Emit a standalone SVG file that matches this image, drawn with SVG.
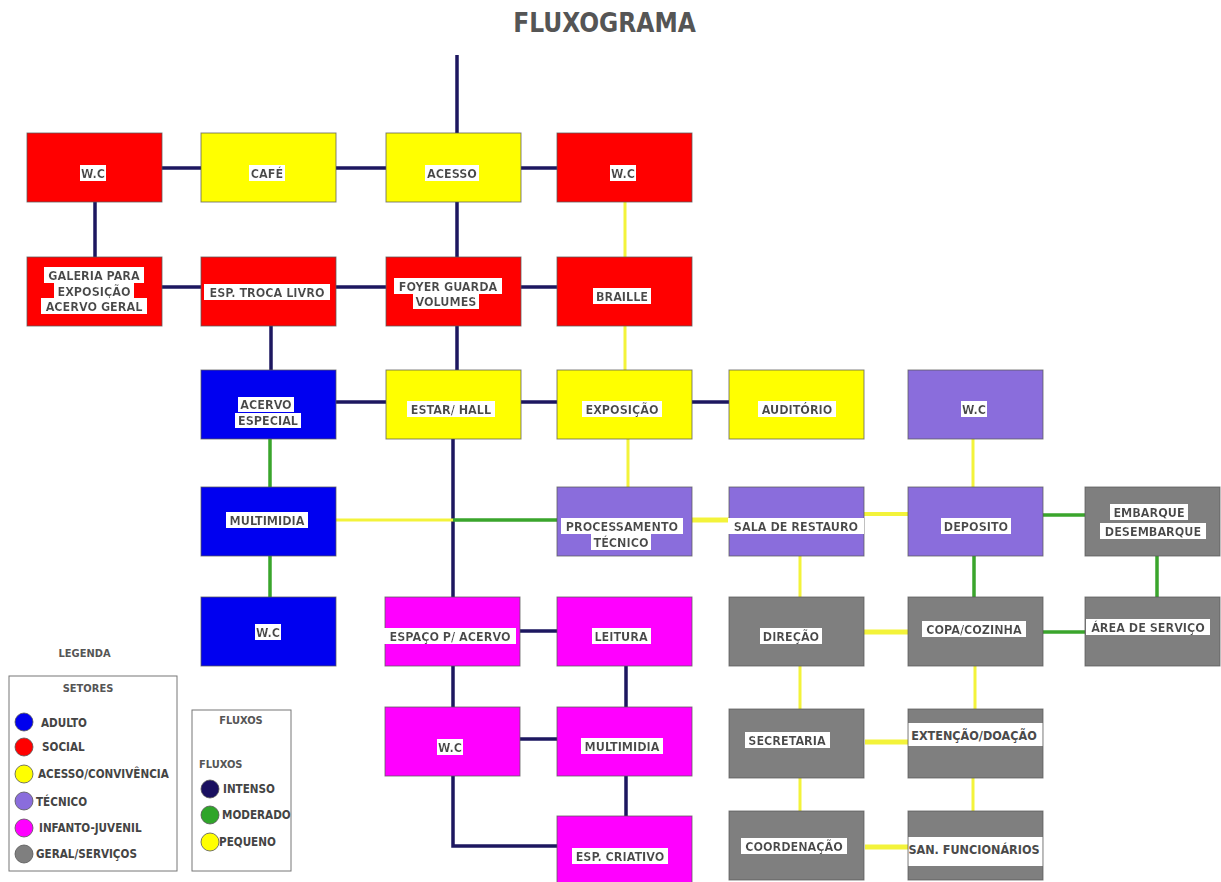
<svg xmlns="http://www.w3.org/2000/svg" width="1221" height="882" viewBox="0 0 1221 882">
<style>
.t{font-family:"DejaVu Sans Condensed","DejaVu Sans","Liberation Sans",sans-serif;font-stretch:condensed;font-weight:bold;font-size:12.5px;fill:#4a4a4a;text-anchor:middle}
.lb{filter:url(#bg)}
.box{stroke:#5a5a5a;stroke-opacity:.75;stroke-width:1}
.red{fill:#ff0000}.yel{fill:#ffff00}.blu{fill:#0000f0}.pur{fill:#8a6ddc}.mag{fill:#ff00ff}.gry{fill:#7f7f7f}
.i{stroke:#1d1760;stroke-width:3.5;fill:none}
.m{stroke:#3aa52c;stroke-width:3.5;fill:none}
.p{stroke:#f3f33a;stroke-width:3;fill:none}
.lg{font-family:"DejaVu Sans Condensed","DejaVu Sans","Liberation Sans",sans-serif;font-stretch:condensed;font-weight:bold;font-size:11.6px;fill:#444}
.lh{font-family:"DejaVu Sans Condensed","DejaVu Sans","Liberation Sans",sans-serif;font-stretch:condensed;font-weight:bold;font-size:11px;fill:#555}
.dot{stroke:#555;stroke-width:.8}
</style>
<defs>
<filter id="bg" x="-0.04" y="0" width="1.08" height="1">
<feFlood flood-color="#ffffff" result="f"/>
<feComposite in="SourceGraphic" in2="f" operator="over"/>
</filter>
</defs>
<rect width="1221" height="882" fill="#ffffff"/>
<text x="604.5" y="31.5" text-anchor="middle" font-family="DejaVu Sans Condensed, DejaVu Sans, Liberation Sans, sans-serif" font-stretch="condensed" font-weight="bold" font-size="26" fill="#555">FLUXOGRAMA</text>

<g id="connectors">
<path class="i" d="M457 55V133M161 168H201M335 168H386M520 168H557M95 202V257M457 202V257M161 287H201M335 287H386M520 287H557M271 326V370M457 326V370M336 402H386M520 402H557M692 402H729M453 439V597M519 631H557M453 666V707M626 666V707M519 739H557M626 776V816M453 776V846H557"/>
<path class="p" d="M625 202V257M625 326V370M628 439V487M336 520H453M973 439V487M800 556V597M800 666V709M975 666V709M800 778V811M973 778V811"/>
<path class="p" style="stroke-width:5" d="M692 520H729M864 632H908M865 742H908M865 847H908"/>
<path class="p" style="stroke-width:4" d="M864 514H908"/>
<path class="m" d="M270 439V487M270 556V597M453 520H557M1043 515H1085M974 556V597M1157 556V597M1043 632H1085"/>
</g>

<g id="wc1"><rect class="box red" x="27" y="133" width="135" height="69"/><text class="t lb" x="93" y="177.5">W.C</text></g>
<g id="cafe"><rect class="box yel" x="201" y="133" width="135" height="69"/><text class="t lb" x="267" y="177.5">CAFÉ</text></g>
<g id="acesso"><rect class="box yel" x="386" y="133" width="135" height="69"/><text class="t lb" x="452" y="177.5">ACESSO</text></g>
<g id="wc2"><rect class="box red" x="557" y="133" width="135" height="69"/><text class="t lb" x="623" y="177.5">W.C</text></g>

<g id="galeria"><rect class="box red" x="27" y="257" width="135" height="69"/><text class="t lb" x="94" y="279.5">GALERIA PARA</text><text class="t lb" x="94" y="295.5">EXPOSIÇÃO</text><text class="t lb" x="94" y="310.5">ACERVO GERAL</text></g>
<g id="troca"><rect class="box red" x="201" y="257" width="135" height="69"/><text class="t lb" x="267" y="296.5">ESP. TROCA LIVRO</text></g>
<g id="foyer"><rect class="box red" x="386" y="257" width="135" height="69"/><text class="t lb" x="448" y="290.5">FOYER GUARDA</text><text class="t lb" x="446" y="305.5">VOLUMES</text></g>
<g id="braille"><rect class="box red" x="557" y="257" width="135" height="69"/><text class="t lb" x="622" y="300.5">BRAILLE</text></g>

<g id="acervo-especial"><rect class="box blu" x="201" y="370" width="135" height="69"/><text class="t lb" x="266" y="409">ACERVO</text><text class="t lb" x="268" y="425">ESPECIAL</text></g>
<g id="estar"><rect class="box yel" x="386" y="370" width="135" height="69"/><text class="t lb" x="451" y="413.5">ESTAR/ HALL</text></g>
<g id="exposicao"><rect class="box yel" x="557" y="370" width="135" height="69"/><text class="t lb" x="622" y="413.5">EXPOSIÇÃO</text></g>
<g id="auditorio"><rect class="box yel" x="729" y="370" width="135" height="69"/><text class="t lb" x="797" y="413.5">AUDITÓRIO</text></g>
<g id="wc3"><rect class="box pur" x="908" y="370" width="135" height="69"/><text class="t lb" x="974" y="413.5">W.C</text></g>

<g id="multimidia1"><rect class="box blu" x="201" y="487" width="135" height="69"/><text class="t lb" x="267" y="524.5">MULTIMIDIA</text></g>
<g id="processamento"><rect class="box pur" x="557" y="487" width="135" height="69"/><text class="t lb" x="622" y="530.5">PROCESSAMENTO</text><text class="t lb" x="621" y="546.5">TÉCNICO</text></g>
<g id="sala-restauro"><rect class="box pur" x="729" y="487" width="135" height="69"/><text class="t lb" x="796" y="530.5">SALA DE RESTAURO</text></g>
<g id="deposito"><rect class="box pur" x="908" y="487" width="135" height="69"/><text class="t lb" x="976" y="530.5">DEPOSITO</text></g>
<g id="embarque"><rect class="box gry" x="1085" y="487" width="135" height="69"/><text class="t lb" x="1149" y="516.5">EMBARQUE</text><text class="t lb" x="1153" y="535.5">DESEMBARQUE</text></g>

<g id="wc4"><rect class="box blu" x="201" y="597" width="135" height="69"/><text class="t lb" x="268" y="636.5">W.C</text></g>
<g id="espaco-acervo"><rect class="box mag" x="385" y="597" width="135" height="69"/><text class="t lb" x="450" y="640.5">ESPAÇO P/ ACERVO</text></g>
<g id="leitura"><rect class="box mag" x="557" y="597" width="135" height="69"/><text class="t lb" x="621" y="640.5">LEITURA</text></g>
<g id="direcao"><rect class="box gry" x="729" y="597" width="135" height="69"/><text class="t lb" x="791" y="640.5">DIREÇÃO</text></g>
<g id="copa"><rect class="box gry" x="908" y="597" width="135" height="69"/><text class="t lb" x="974" y="633.5">COPA/COZINHA</text></g>
<g id="area-servico"><rect class="box gry" x="1085" y="597" width="135" height="69"/><text class="t lb" x="1148" y="631.5">ÁREA DE SERVIÇO</text></g>

<g id="wc5"><rect class="box mag" x="385" y="707" width="135" height="69"/><text class="t lb" x="450" y="751.5">W.C</text></g>
<g id="multimidia2"><rect class="box mag" x="557" y="707" width="135" height="69"/><text class="t lb" x="622" y="750.5">MULTIMIDIA</text></g>
<g id="secretaria"><rect class="box gry" x="729" y="709" width="135" height="69"/><text class="t lb" x="787" y="744.5">SECRETARIA</text></g>
<g id="extencao"><rect class="box gry" x="908" y="709" width="135" height="69"/><rect x="908.5" y="723" width="134" height="23" fill="#ffffff"/><text class="t" x="974" y="739.5">EXTENÇÃO/DOAÇÃO</text></g>

<g id="esp-criativo"><rect class="box mag" x="557" y="816" width="135" height="69"/><text class="t lb" x="620" y="860.5">ESP. CRIATIVO</text></g>
<g id="coordenacao"><rect class="box gry" x="729" y="811" width="135" height="69"/><text class="t lb" x="794" y="850.5">COORDENAÇÃO</text></g>
<g id="san-funcionarios"><rect class="box gry" x="908" y="811" width="135" height="69"/><rect x="908.5" y="837" width="134" height="29" fill="#ffffff"/><text class="t" x="974" y="853.5">SAN. FUNCIONÁRIOS</text></g>

<g id="legenda">
<text class="lh" x="84.5" y="657" text-anchor="middle">LEGENDA</text>
<rect x="9" y="676" width="168" height="195" fill="#ffffff" stroke="#777" stroke-width="1"/>
<text class="lh" x="88" y="692" text-anchor="middle">SETORES</text>
<circle class="dot" cx="24" cy="722" r="9" fill="#0000ee"/>
<circle class="dot" cx="24" cy="747" r="9" fill="#ff0000"/>
<circle class="dot" cx="24" cy="774" r="9" fill="#ffff00"/>
<circle class="dot" cx="24" cy="801" r="9" fill="#8a6ddc"/>
<circle class="dot" cx="24" cy="828" r="9" fill="#ff00ff"/>
<circle class="dot" cx="24" cy="854" r="9" fill="#7f7f7f"/>
<text class="lg" x="41" y="727">ADULTO</text>
<text class="lg" x="42" y="751">SOCIAL</text>
<text class="lg" x="38" y="778">ACESSO/CONVIVÊNCIA</text>
<text class="lg" x="36" y="806">TÉCNICO</text>
<text class="lg" x="39" y="832">INFANTO-JUVENIL</text>
<text class="lg" x="36" y="858">GERAL/SERVIÇOS</text>
<rect x="192" y="710" width="99" height="161" fill="#ffffff" stroke="#777" stroke-width="1"/>
<text class="lh" x="241" y="724" text-anchor="middle">FLUXOS</text>
<text class="lh" x="199" y="768">FLUXOS</text>
<circle class="dot" cx="210" cy="789" r="9" fill="#1a1060"/>
<circle class="dot" cx="210" cy="815" r="9" fill="#2fa52a"/>
<circle class="dot" cx="210" cy="842" r="9" fill="#ffff00"/>
<text class="lg" x="223" y="793">INTENSO</text>
<text class="lg" x="222" y="819">MODERADO</text>
<text class="lg" x="219" y="846">PEQUENO</text>
</g>
</svg>
